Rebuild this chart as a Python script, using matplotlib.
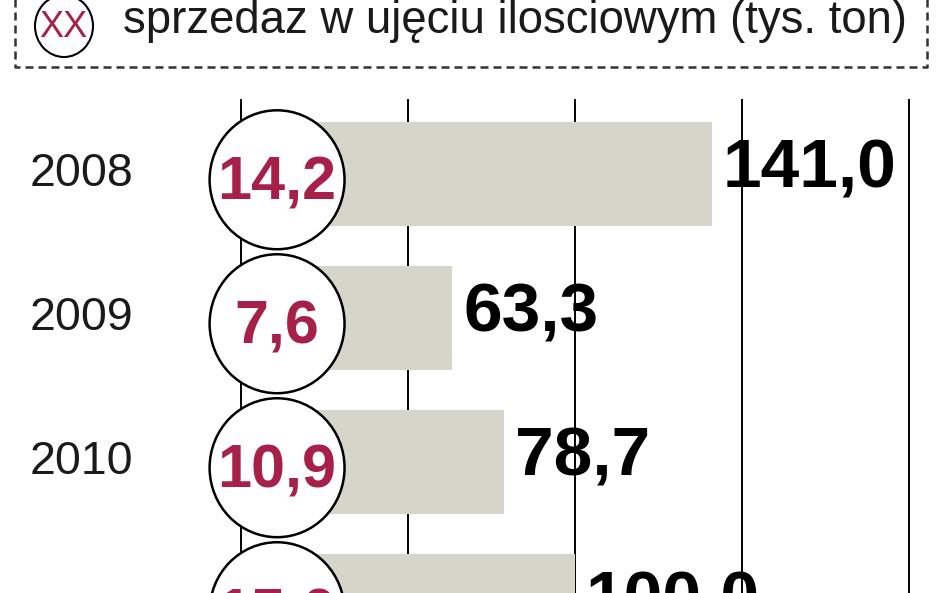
import matplotlib
matplotlib.use("Agg")
import matplotlib.pyplot as plt
from matplotlib.patches import Ellipse
from matplotlib.transforms import blended_transform_factory

# ---- data ----
years = ["2008", "2009", "2010"]                 # 4th row label is cut off in the source
sales_qty = [141.0, 63.3, 78.7, 100.0]          # bar values (tys. ton)
circle_vals = [14.2, 7.6, 10.9, 15.0]           # values in circles
grid_ticks = [0, 50, 100, 150, 200]
legend_text = "sprzedaz w ujęciu ilosciowym (tys. ton)"
legend_marker = "XX"

def fmt(v):
    return f"{v:.1f}".replace(".", ",")

FONT = "Liberation Sans"
RED = "#a6204a"
BAR = "#d6d5ca"

W, H = 948, 593
fig = plt.figure(figsize=(W / 100, H / 100), dpi=100)

# main axes: x 0..200 maps to pixels 241..909, top edge at pixel 100
ax = fig.add_axes([241 / W, 0, (909 - 241) / W, (H - 100) / H])
ax.set_xlim(0, 200)
ax.set_ylim(2.91, -0.514)
ax.axis("off")

for g in grid_ticks:
    ax.axvline(g, color="black", lw=1.4, zorder=0, clip_on=False)

ypos = list(range(len(sales_qty)))
ax.barh(ypos, sales_qty, height=0.72, color=BAR, zorder=1)

for i, (v, c) in enumerate(zip(sales_qty, circle_vals)):
    ax.add_patch(Ellipse((10.8, i + 0.04), width=40.4, height=0.965,
                         facecolor="white", edgecolor="black", lw=1.8,
                         zorder=3, clip_on=False))
    ax.text(10.6, i + 0.174, fmt(c), ha="center", va="baseline", color=RED,
            fontsize=44, fontweight="bold", family=FONT,
            zorder=4, clip_on=False)
    ax.text(v + 3.3, i + 0.097, fmt(v), ha="left", va="baseline", color="black",
            fontsize=50, fontweight="bold", family=FONT,
            zorder=4, clip_on=False)

tr = blended_transform_factory(fig.transFigure, ax.transData)
for i, yr in enumerate(years):
    ax.text(30 / W, i + 0.083, yr, transform=tr, ha="left", va="baseline",
            color="#1a1a1a", fontsize=33.5, family=FONT, clip_on=False)

# overlay axes in pixel coordinates for the legend box
ov = fig.add_axes([0, 0, 1, 1], zorder=5)
ov.set_xlim(0, W)
ov.set_ylim(H, 0)
ov.axis("off")
ov.patch.set_alpha(0)
dash = (0, (3.2, 2.0))
ov.plot([15, 15, 927, 927], [-5, 67, 67, -5], color="#333333", lw=1.8,
        linestyle=dash)
ov.add_patch(Ellipse((64, 26), width=58, height=62, facecolor="white",
                     edgecolor="black", lw=1.5))
ov.text(63.5, 37, legend_marker, ha="center", va="baseline", color=RED,
        fontsize=26, family=FONT)
lt = ov.text(123, 33, legend_text, ha="left", va="baseline", color="#1a1a1a",
             fontsize=39, family=FONT)

# fit legend text width to the box (ends near x=907)
fig.canvas.draw()
bb = lt.get_window_extent(renderer=fig.canvas.get_renderer())
lt.set_fontsize(39 * (907 - 123) / bb.width)

fig.savefig("out.png", dpi=100)
